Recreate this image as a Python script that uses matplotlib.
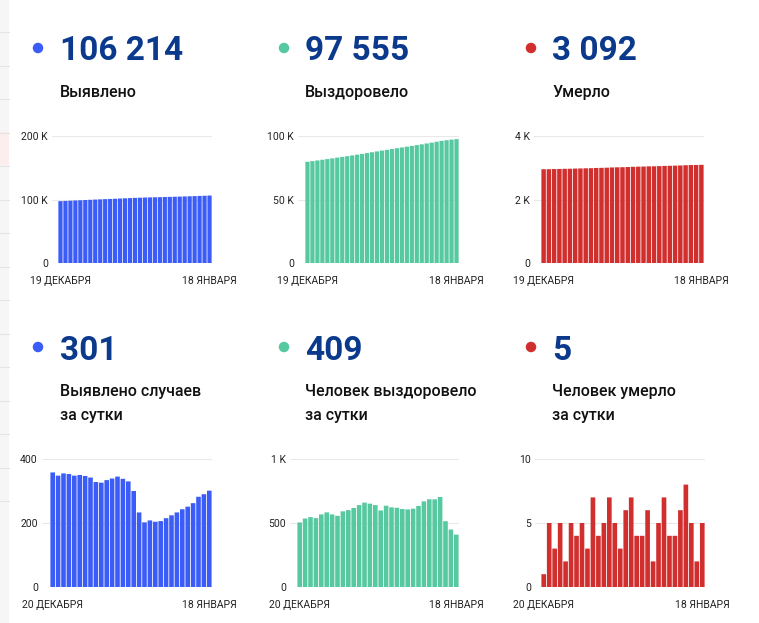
import matplotlib
matplotlib.use("Agg")
import matplotlib.pyplot as plt
from matplotlib.patches import Rectangle, Ellipse

plt.rcParams['font.family'] = ['Roboto', 'DejaVu Sans']

# ---------------- data ----------------
cum_dates = ["19 ДЕКАБРЯ", "18 ЯНВАРЯ"]
daily_dates = ["20 ДЕКАБРЯ", "18 ЯНВАРЯ"]

cum_confirmed = [97419, 97777, 98125, 98480, 98833, 99181, 99531, 99878, 100220, 100548,
                 100874, 101208, 101547, 101892, 102230, 102560, 102860, 103093, 103295,
                 103503, 103707, 103913, 104128, 104352, 104585, 104828, 105079, 105341,
                 105623, 105913, 106214]
cum_recovered = [79712, 80216, 80751, 81297, 81835, 82402, 82985, 83552, 84108, 84699,
                 85300, 85917, 86557, 87216, 87867, 88507, 89105, 89740, 90362, 90981,
                 91590, 92196, 92808, 93441, 94110, 94795, 95480, 96183, 96697, 97146, 97555]
cum_deaths = [2953, 2954, 2959, 2962, 2967, 2969, 2974, 2978, 2983, 2986, 2993, 2997, 3002,
              3009, 3014, 3017, 3023, 3030, 3034, 3038, 3044, 3046, 3051, 3058, 3062, 3066,
              3072, 3080, 3085, 3087, 3092]

daily_confirmed = [358, 348, 355, 353, 348, 350, 347, 342, 328, 326, 334, 339, 345, 338, 330,
                   300, 233, 202, 208, 204, 206, 215, 224, 233, 243, 251, 262, 282, 290, 301]
daily_recovered = [504, 535, 546, 538, 567, 583, 567, 556, 591, 601, 617, 640, 659, 651, 640,
                   598, 635, 622, 619, 609, 606, 612, 633, 669, 685, 685, 703, 514, 449, 409]
daily_deaths = [1, 5, 3, 5, 2, 5, 4, 5, 3, 7, 4, 5, 7, 5, 3, 6, 7, 4, 4, 6, 2, 5, 7, 4, 4, 6,
                8, 5, 2, 5]

headline_values = ["106 214", "97 555", "3 092", "301", "409", "5"]
headline_labels = ["Выявлено", "Выздоровело", "Умерло",
                   "Выявлено случаев\nза сутки", "Человек выздоровело\nза сутки",
                   "Человек умерло\nза сутки"]

yticks = [[0, 100000, 200000], [0, 50000, 100000], [0, 2000, 4000],
          [0, 200, 400], [0, 500, 1000], [0, 5, 10]]
yticklabels = [["0", "100 K", "200 K"], ["0", "50 K", "100 K"], ["0", "2 K", "4 K"],
               ["0", "200", "400"], ["0", "500", "1 K"], ["0", "5", "10"]]

BLUE = "#3b5cf6"
GREEN = "#57c9a1"
RED = "#d12e2e"
NAVY = "#0b3a8d"
colors = [BLUE, GREEN, RED, BLUE, GREEN, RED]
series = [cum_confirmed, cum_recovered, cum_deaths,
          daily_confirmed, daily_recovered, daily_deaths]
xlabels = [cum_dates] * 3 + [daily_dates] * 3

# ---------------- layout (pixels) ----------------
W, H = 759, 623
fig = plt.figure(figsize=(W / 100, H / 100), dpi=100)
fig.patch.set_facecolor("white")

# page edge strip at the left
fig.patches.append(Rectangle((0, 0), 9 / W, 1, transform=fig.transFigure,
                             facecolor="#f6f6f6", edgecolor="none", zorder=0))
fig.patches.append(Rectangle((0, 1 - 165 / H), 9 / W, 33 / H, transform=fig.transFigure,
                             facecolor="#fbeeec", edgecolor="none", zorder=0))
for k in range(15):
    yy = 1 - (32 + k * 33.5) / H
    fig.add_artist(plt.Line2D([0, 9 / W], [yy, yy], transform=fig.transFigure,
                              color="#e4e4e4", lw=0.8))

# gridline start, bar start, bar end (x), top, baseline (y)
geom = [(52, 58, 212, 136, 263), (298, 305, 459, 136, 263), (534, 541, 704, 136, 263),
        (42, 50, 212, 459, 587), (290, 297, 459, 459, 587), (535, 541, 705, 459, 587)]
head_x = [60, 305, 552, 60, 305, 552]
dot_x = [38, 284, 531, 38, 284, 531]
head_y = [48, 48, 48, 347, 347, 347]

for i in range(6):
    gx, bx, ex, ty, by = geom[i]
    vals = series[i]
    n = len(vals)
    ax = fig.add_axes([gx / W, 1 - by / H, (ex - gx) / W, (by - ty) / H])
    bars = ax.bar(range(n), vals, width=0.85, color=colors[i], zorder=2)
    for b in bars:
        b.set_snap(False)
    pad = (bx - gx) * n / (ex - bx)
    ax.set_xlim(-0.5 - pad, n - 0.5)
    ax.set_ylim(0, yticks[i][-1])
    ax.set_yticks(yticks[i])
    ax.set_yticklabels(yticklabels[i])
    ax.set_xticks([0, n - 1])
    ax.set_xticklabels(xlabels[i])
    ax.tick_params(length=0, labelsize=7.5, colors="#222222")
    ax.tick_params(axis="y", pad=3)
    ax.tick_params(axis="x", pad=9)
    for s in ax.spines.values():
        s.set_visible(False)
    ax.grid(axis="y", color="#e9e9e9", lw=0.8, zorder=0)
    ax.set_axisbelow(True)
    ax.set_facecolor("none")

    # headline
    fig.patches.append(Ellipse((dot_x[i] / W, 1 - head_y[i] / H), 10.5 / W, 10.5 / H,
                               transform=fig.transFigure, facecolor=colors[i],
                               edgecolor="none"))
    fig.text(head_x[i] / W, 1 - head_y[i] / H, headline_values[i], fontsize=24,
             fontweight="bold", color=NAVY, ha="left", va="center_baseline")
    fig.text(head_x[i] / W, 1 - (head_y[i] + 37) / H, headline_labels[i], fontsize=11.5,
             fontweight="medium", color="#111111", ha="left", va="top",
             linespacing=1.75)

fig.savefig("out.png", dpi=100)
